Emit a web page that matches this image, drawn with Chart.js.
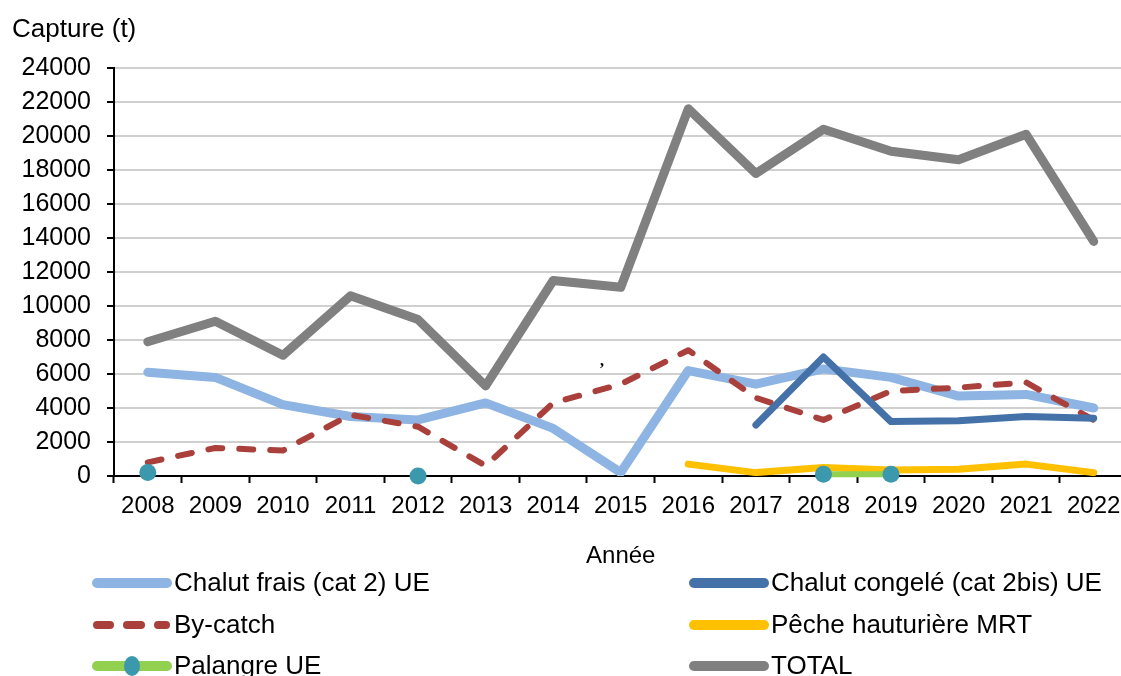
<!DOCTYPE html>
<html>
<head>
<meta charset="utf-8">
<script src="https://cdn.jsdelivr.net/npm/chart.js@4/dist/chart.umd.min.js"></script>
<style>
  html, body { margin: 0; padding: 0; background: #fff; overflow: hidden; }
  canvas { display: block; }
</style>
</head>
<body>
<canvas id="captureChart" width="1136" height="676"></canvas>
<script>
// Captures par segment de flotte (t), 2008-2022
const years = ['2008', '2009', '2010', '2011', '2012', '2013', '2014', '2015',
               '2016', '2017', '2018', '2019', '2020', '2021', '2022'];

const chalutFrais   = [6100, 5800, 4200, 3500, 3300, 4300, 2800, 200, 6200, 5400, 6300, 5800, 4700, 4800, 4000];
const chalutCongele = [null, null, null, null, null, null, null, null, null, 3000, 7000, 3200, 3250, 3500, 3400];
const byCatch       = [800, 1650, 1500, 3600, 2900, 600, 4300, 5400, 7400, 4600, 3300, 5000, 5200, 5500, 3300];
const pecheMRT      = [null, null, null, null, null, null, null, null, 700, 200, 500, 350, 400, 700, 200];
const palangre      = [200, null, null, null, 0, null, null, null, null, null, 100, 100, null, null, null];
const total         = [7900, 9100, 7100, 10600, 9200, 5300, 11500, 11100, 21600, 17800, 20400, 19100, 18600, 20100, 13800];

const yTicks = [0, 2000, 4000, 6000, 8000, 10000, 12000, 14000, 16000, 18000, 20000, 22000, 24000];

const FONT = '"Liberation Sans", Arial, sans-serif';

const C_FRAIS = '#8db4e2';
const C_CONGELE = '#4472a8';
const C_BYCATCH = '#a9403c';
const C_MRT = '#ffc000';
const C_PALANGRE = '#92d050';
const C_MARKER = '#3b98ad';
const C_TOTAL = '#808080';

function lineSet(label, data, color, width, order, extra) {
    return Object.assign({
        label: label,
        data: data,
        borderColor: color,
        backgroundColor: color,
        borderWidth: width,
        borderJoinStyle: 'round',
        borderCapStyle: 'round',
        pointRadius: 0,
        pointHoverRadius: 0,
        tension: 0,
        fill: false,
        spanGaps: false,
        order: order
    }, extra || {});
}

// legend in two columns + top-left title + stray comma of the original
const decorPlugin = {
    id: 'decor',
    afterDraw(chart) {
        const ctx = chart.ctx;
        ctx.save();
        ctx.fillStyle = '#000';
        ctx.textBaseline = 'alphabetic';
        ctx.textAlign = 'left';
        ctx.font = '26px ' + FONT;
        ctx.fillText('Capture (t)', 12, 37);

        ctx.font = 'bold 16px "Liberation Serif", serif';
        ctx.fillText(',', 600, 366);

        const rows = [583, 625, 666];
        const items = [
            { text: 'Chalut frais (cat 2) UE', color: C_FRAIS, x: 92, row: 0 },
            { text: 'Chalut congelé (cat 2bis) UE', color: C_CONGELE, x: 689, row: 0 },
            { text: 'By-catch', color: C_BYCATCH, x: 92, row: 1, dash: true },
            { text: 'Pêche hauturière MRT', color: C_MRT, x: 689, row: 1 },
            { text: 'Palangre UE', color: C_PALANGRE, x: 92, row: 2, marker: true },
            { text: 'TOTAL', color: C_TOTAL, x: 689, row: 2 }
        ];
        ctx.textBaseline = 'middle';
        items.forEach(it => {
            const y = rows[it.row];
            ctx.strokeStyle = it.color;
            ctx.lineCap = 'round';
            if (it.dash) {
                ctx.lineWidth = 8;
                [[97, 110], [127, 141], [158, 166]].forEach(seg => {
                    ctx.beginPath();
                    ctx.moveTo(seg[0], y);
                    ctx.lineTo(seg[1], y);
                    ctx.stroke();
                });
            } else {
                ctx.lineWidth = 10;
                ctx.beginPath();
                ctx.moveTo(it.x + 5, y);
                ctx.lineTo(it.x + 75, y);
                ctx.stroke();
            }
            if (it.marker) {
                ctx.fillStyle = C_MARKER;
                ctx.beginPath();
                ctx.ellipse(it.x + 40, y, 8, 10, 0, 0, Math.PI * 2);
                ctx.fill();
            }
            ctx.fillStyle = '#000';
            ctx.font = '26px ' + FONT;
            ctx.fillText(it.text, it.x + 82, y + 1);
        });
        ctx.restore();
    }
};

new Chart(document.getElementById('captureChart'), {
    type: 'line',
    data: {
        labels: years,
        datasets: [
            lineSet('Chalut frais (cat 2) UE', chalutFrais, C_FRAIS, 9, 4),
            lineSet('Chalut congelé (cat 2bis) UE', chalutCongele, C_CONGELE, 7, 1),
            lineSet('By-catch', byCatch, C_BYCATCH, 6, 2, { borderDash: [14, 17] }),
            lineSet('Pêche hauturière MRT', pecheMRT, C_MRT, 7, 3),
            lineSet('Palangre UE', palangre, C_PALANGRE, 6, 0, {
                clip: false,
                pointRadius: 8.5,
                pointBackgroundColor: C_MARKER,
                pointBorderColor: C_MARKER,
                pointBorderWidth: 0
            }),
            lineSet('TOTAL', total, C_TOTAL, 9, 5)
        ]
    },
    options: {
        responsive: false,
        animation: false,
        devicePixelRatio: 1,
        layout: { padding: { top: 68, right: 0, bottom: 105, left: 0 } },
        plugins: {
            legend: { display: false },
            title: { display: false },
            tooltip: { enabled: false }
        },
        scales: {
            x: {
                type: 'category',
                offset: true,
                grid: {
                    offset: true,
                    drawOnChartArea: false,
                    drawTicks: true,
                    tickLength: 7,
                    tickColor: '#000',
                    tickWidth: 2
                },
                border: { color: '#000', width: 2 },
                ticks: {
                    color: '#000',
                    padding: 9,
                    maxRotation: 0,
                    autoSkip: false,
                    font: { family: FONT, size: 24 }
                },
                title: {
                    display: true,
                    text: 'Année',
                    color: '#000',
                    padding: { top: 0, bottom: 0 },
                    font: { family: FONT, size: 24 }
                },
                afterFit(scale) {
                    scale.height = 95;
                    scale.paddingLeft = 0;
                    scale.paddingRight = 0;
                }
            },
            y: {
                min: 0,
                max: 24000,
                grid: {
                    color: '#d0d0d0',
                    lineWidth: 2,
                    drawTicks: true,
                    tickLength: 7,
                    tickColor: '#000',
                    tickWidth: 2
                },
                border: { color: '#000', width: 2 },
                afterBuildTicks(scale) {
                    scale.ticks = yTicks.map(v => ({ value: v }));
                },
                ticks: {
                    color: '#000',
                    padding: 16,
                    font: { family: FONT, size: 25 },
                    callback: v => String(v)
                },
                afterFit(scale) { scale.width = 114; }
            }
        }
    },
    plugins: [decorPlugin]
});
</script>
</body>
</html>
